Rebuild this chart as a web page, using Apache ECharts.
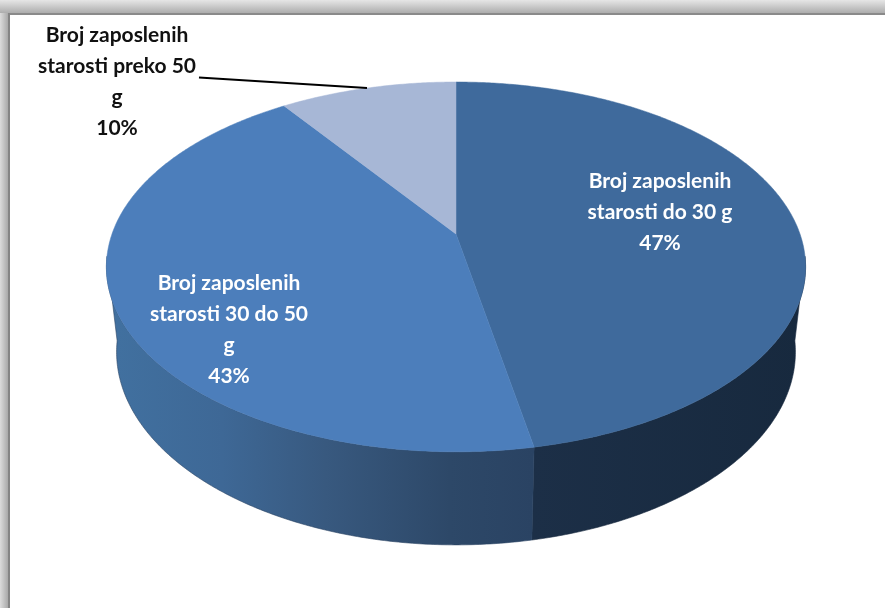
<!DOCTYPE html>
<html><head><meta charset="utf-8">
<style>html,body{margin:0;padding:0;background:#fff}#c{width:885px;height:608px}</style>
<script src="https://cdn.jsdelivr.net/npm/echarts@6/dist/echarts.min.js"></script>
</head><body><div id="c"></div>
<script>
const categories = ['Broj zaposlenih\nstarosti do 30 g', 'Broj zaposlenih\nstarosti 30 do 50\ng', 'Broj zaposlenih\nstarosti preko 50\ng'];
const shares = [47, 43.3, 9.7];

const topColors = ['#3f6a9c', '#4c7ebb', '#a7b7d6'];
const sideStops = [
  [[0, '#1c2f47'], [1, '#17293e']],
  [[0, '#41709f'], [0.25, '#3e6896'], [0.5, '#38597f'], [0.8, '#2d4868'], [1, '#2a4363']],
  null
];
const labelPos = [[660, 212.5, '#fff'], [229, 330, '#fff'], [117, 82, '#111']];
const leader = [[199, 77.5], [367, 88]];

const PERSP = 0.178, CX = 456;
const upper = {k: 344, a: -137.4, b: 234};
const lower = {k: 334, a: -130.3, b: 317.6};
function proj(m, deg) {
  const r = deg * Math.PI / 180, u = Math.sin(r), v = Math.cos(r), d = 1 + PERSP * v;
  return [CX + m.k * u / d, (m.a * v + m.b) / d];
}
function rim(m, from, to) {
  const pts = [], n = Math.max(2, Math.ceil(Math.abs(to - from) * 2));
  for (let i = 0; i <= n; i++) pts.push(proj(m, from + (to - from) * i / n));
  return pts;
}
const total = shares.reduce((s, x) => s + x, 0);
function span(i) {
  let s = 0;
  for (let j = 0; j < i; j++) s += shares[j];
  return [s / total * 360, (s + shares[i]) / total * 360];
}
const FRONT = [97, 263];
const chart = echarts.init(document.getElementById('c'), null, {renderer: 'canvas'});
const data = shares.map((v, i) => ({name: categories[i], value: v}));
chart.setOption({
  animation: false,
  backgroundColor: '#fff',
  graphic: [
    {type: 'rect', z: 10, shape: {x: 0, y: 0, width: 885, height: 13},
     style: {fill: new echarts.graphic.LinearGradient(0, 0, 0, 1, [{offset: 0, color: '#e6e6e6'}, {offset: 1, color: '#adadad'}])}},
    {type: 'rect', z: 11, shape: {x: 8, y: 13, width: 877, height: 2}, style: {fill: '#8a8a8a'}},
    {type: 'rect', z: 10, shape: {x: 0, y: 13, width: 8, height: 595},
     style: {fill: new echarts.graphic.LinearGradient(0, 0, 1, 0, [{offset: 0, color: '#dcdcdc'}, {offset: 1, color: '#a9a9a9'}])}},
    {type: 'rect', z: 11, shape: {x: 8, y: 13, width: 2, height: 595}, style: {fill: '#858585'}}
  ],
  series: [
    {
      type: 'custom', coordinateSystem: 'none', z: 2, data,
      renderItem(p, api) {
        const i = p.dataIndex;
        if (!sideStops[i]) return {type: 'group', children: []};
        const [a, b] = span(i);
        const from = Math.max(a, FRONT[0]), to = Math.min(b, FRONT[1]);
        const pts = rim(upper, from, to).concat(rim(lower, to, from));
        const x0 = i === 0 ? 533 : 118, x1 = i === 0 ? 805 : 533;
        const grad = new echarts.graphic.LinearGradient(x0, 0, x1, 0,
          sideStops[i].map(s => ({offset: s[0], color: s[1]})), true);
        return {type: 'polygon', shape: {points: pts},
          style: {fill: grad, stroke: sideStops[i][sideStops[i].length - 1][1], lineWidth: 0.6}};
      }
    },
    {
      type: 'custom', coordinateSystem: 'none', z: 3, data,
      renderItem(p, api) {
        const i = p.dataIndex;
        const [a, b] = span(i);
        const pts = [[CX, upper.b]].concat(rim(upper, a, b));
        return {type: 'polygon', shape: {points: pts},
          style: {fill: topColors[i], stroke: topColors[i], lineWidth: 0.5}};
      }
    },
    {
      type: 'custom', coordinateSystem: 'none', z: 4, data,
      renderItem(p, api) {
        const i = p.dataIndex, L = labelPos[i];
        const children = [{
          type: 'text', x: L[0], y: L[1], z2: 5,
          style: {
            text: categories[i] + '\n' + Math.round(shares[i]) + '%',
            fill: L[2], align: 'center', verticalAlign: 'middle',
            font: 'bold 21px Lato,"Open Sans",sans-serif',
            lineHeight: 31
          }
        }];
        if (i === 2) children.push({
          type: 'polyline', shape: {points: leader},
          style: {stroke: '#000', lineWidth: 1.8, fill: null}
        });
        return {type: 'group', children};
      }
    }
  ]
});
</script></body></html>
